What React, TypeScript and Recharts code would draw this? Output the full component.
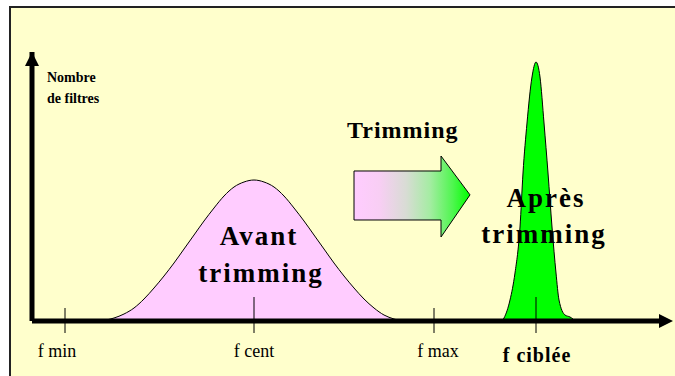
import React from 'react';
import { ComposedChart, Area, XAxis, YAxis, ReferenceArea } from 'recharts';

// positions along the frequency axis (chart units) and heights (number of filters)
const avantX = [66, 74, 82, 92, 102, 112, 122, 132, 142, 152, 162, 172, 182, 192, 202, 212, 222, 232, 242, 252, 262, 272, 282, 292, 302, 312, 322, 332, 342, 352, 362, 370];
const avantY = [0, 1, 3, 7, 13, 22, 33, 45, 58, 72, 86, 100, 113, 125, 134, 139, 141, 139, 134, 125, 113, 100, 86, 72, 58, 45, 33, 22, 13, 6, 2, 0];

const apresX = [470, 472, 478, 483, 488, 491, 495, 500, 504, 508, 512, 516, 520, 524, 527, 533, 538, 541, 543];
const apresY = [0, 3, 21, 48, 94, 148, 198, 244, 259, 244, 198, 148, 94, 48, 21, 6, 4, 2, 0];

const tickValues = [33, 222, 402, 504];
const tickLabels = ['f min', 'f cent', 'f max', 'f ciblée'];
const tallTicks = [false, true, false, true];
const labelShift = [-8, 0, 4, 1];

const rows = [
  ...avantX.map((u, i) => ({ u, avant: avantY[i] })),
  ...apresX.map((u, i) => ({ u, apres: apresY[i] })),
].sort((a, b) => a.u - b.u);

const serif = '"Liberation Serif", "Times New Roman", serif';

const FreqTick = (props: any) => {
  const { x, y, index } = props;
  const last = index === tickLabels.length - 1;
  return (
    <g>
      <line x1={x} x2={x} y1={y - (tallTicks[index] ? 24 : 13)} y2={y + 12} stroke="#000" strokeWidth={1} />
      <text
        x={x + labelShift[index]}
        y={y + (last ? 41 : 36)}
        textAnchor="middle"
        fontFamily={serif}
        fontSize={last ? 20 : 18}
        fontWeight={last ? 'bold' : 'normal'}
        letterSpacing={last ? 1 : 0}
        fill="#000"
      >
        {tickLabels[index]}
      </text>
    </g>
  );
};

const BigArrow = (props: any) => {
  const { x, y, width: w, height: h } = props;
  const pts = [
    [x, y + h * 0.185],
    [x + w * 0.75, y + h * 0.185],
    [x + w * 0.75, y],
    [x + w, y + h * 0.48],
    [x + w * 0.75, y + h],
    [x + w * 0.75, y + h * 0.79],
    [x, y + h * 0.79],
  ]
    .map((p) => p.join(','))
    .join(' ');
  return <polygon points={pts} fill="url(#trimGrad)" stroke="#000" strokeWidth={1} />;
};

const bold = { fontFamily: serif, fontWeight: 'bold' as const, fill: '#000' };

export default function App() {
  return (
    <div style={{ position: 'fixed', left: 0, top: 0, width: 675, height: 376, background: '#fff' }}>
      <div
        style={{
          position: 'absolute',
          left: 9,
          top: 6,
          width: 666,
          height: 370,
          background: '#FFFFCC',
          borderTop: '2px solid #222',
          borderLeft: '2px solid #222',
          boxSizing: 'border-box',
        }}
      />
      <div style={{ position: 'absolute', left: 0, top: 0 }}>
        <ComposedChart width={675} height={376} data={rows} margin={{ top: 52, right: 2, bottom: 15, left: 30 }}>
          <defs>
            <linearGradient id="trimGrad" x1="0" y1="0" x2="1" y2="0">
              <stop offset="0" stopColor="#FFCCFF" />
              <stop offset="0.22" stopColor="#F8CEF4" />
              <stop offset="0.45" stopColor="#D8DCD4" />
              <stop offset="0.65" stopColor="#A6ECA4" />
              <stop offset="0.85" stopColor="#50F650" />
              <stop offset="1" stopColor="#00FF00" />
            </linearGradient>
            <marker id="axisHead" viewBox="0 0 10 10" refX="10" refY="5" markerUnits="userSpaceOnUse" markerWidth="14" markerHeight="14" orient="auto-start-reverse">
              <path d="M0,0 L10,5 L0,10 z" fill="#000" />
            </marker>
          </defs>
          <YAxis
            type="number"
            domain={[0, 269]}
            width={2}
            tick={false}
            tickLine={false}
            axisLine={{ stroke: '#000', strokeWidth: 5, markerStart: 'url(#axisHead)' }}
          />
          <ReferenceArea x1={322} x2={438} y1={84} y2={165} shape={<BigArrow />} />
          <Area
            type="monotone"
            dataKey="avant"
            stroke="#000"
            strokeWidth={1}
            fill="#FFCCFF"
            fillOpacity={1}
            dot={false}
            activeDot={false}
            isAnimationActive={false}
          />
          <Area
            type="monotone"
            dataKey="apres"
            stroke="#000"
            strokeWidth={1}
            fill="#00FF00"
            fillOpacity={1}
            dot={false}
            activeDot={false}
            isAnimationActive={false}
          />
          <XAxis
            dataKey="u"
            type="number"
            domain={[0, 641]}
            ticks={tickValues}
            height={40}
            tickSize={0}
            tickMargin={0}
            tickLine={false}
            interval={0}
            tick={<FreqTick />}
            axisLine={{ stroke: '#000', strokeWidth: 5, strokeDasharray: '633 100', markerEnd: 'url(#axisHead)' }}
          />
        </ComposedChart>
      </div>
      {/* annotations on top of the filled curves */}
      <svg width={675} height={376} style={{ position: 'absolute', left: 0, top: 0, pointerEvents: 'none' }}>
        <text x={47} y={82} fontSize={14} {...bold}>Nombre</text>
        <text x={47} y={103} fontSize={14} {...bold}>de filtres</text>
        <text x={347} y={138} fontSize={24} letterSpacing={1} {...bold}>Trimming</text>
        <text x={259} y={245} textAnchor="middle" fontSize={27} letterSpacing={2} {...bold}>Avant</text>
        <text x={261} y={282} textAnchor="middle" fontSize={27} letterSpacing={2} {...bold}>trimming</text>
        <text x={546} y={207} textAnchor="middle" fontSize={27} letterSpacing={2} {...bold}>Après</text>
        <text x={544} y={243} textAnchor="middle" fontSize={27} letterSpacing={2} {...bold}>trimming</text>
      </svg>
    </div>
  );
}
